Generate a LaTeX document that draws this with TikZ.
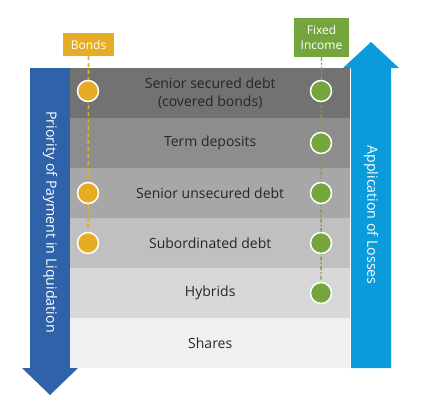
\documentclass[tikz,border=0pt]{standalone}
\usepackage{fontspec}
\setmainfont{Open Sans}
\definecolor{lblue}{HTML}{2F62A9}
\definecolor{rblue}{HTML}{0A9BDD}
\definecolor{bondc}{HTML}{E6AC25}
\definecolor{fixc}{HTML}{74A63D}
\definecolor{txt}{HTML}{262626}
\definecolor{rA}{HTML}{727272}
\definecolor{rB}{HTML}{8D8D8D}
\definecolor{rC}{HTML}{A7A7A7}
\definecolor{rD}{HTML}{C0C0C0}
\definecolor{rE}{HTML}{D8D8D8}
\definecolor{rF}{HTML}{F0F0F0}
\begin{document}
\begin{tikzpicture}[x=1pt,y=-1pt,
  rowbox/.style={draw=none,minimum width=280pt,minimum height=50pt,inner sep=0pt,anchor=north west,
    font=\fontsize{14}{18}\selectfont,text=txt,align=center},
  dot/.style={circle,draw=white,line width=1.5pt,minimum size=21pt,inner sep=0pt},
  bdot/.style={dot,fill=bondc},
  fdot/.style={dot,fill=fixc},
  tag/.style={inner sep=0pt,text=white,font=\fontsize{12}{15}\selectfont,align=center},
  vtext/.style={text=white,font=\fontsize{14.2}{16}\selectfont,rotate=-90}]
\useasboundingbox (0,0) rectangle (423,408);
% arrows
\fill[lblue] (30,68) -- (70,68) -- (70,368) -- (78,368) -- (50,395) -- (22,368) -- (30,368) -- cycle;
\fill[rblue] (351,368) -- (391,368) -- (391,68) -- (399,68) -- (371,42) -- (343,68) -- (351,68) -- cycle;
\node[vtext] (pl) at (50,222) {Priority of Payment in Liquidation};
\node[vtext] (al) at (371,215) {Application of Losses};
% rows
\node[rowbox,fill=rA] (r1) at (70,68) {Senior secured debt\\(covered bonds)};
\node[rowbox,fill=rB] (r2) at (70,118) {Term deposits};
\node[rowbox,fill=rC] (r3) at (70,168) {Senior unsecured debt};
\node[rowbox,fill=rD] (r4) at (70,218) {Subordinated debt};
\node[rowbox,fill=rE] (r5) at (70,268) {Hybrids};
\node[rowbox,fill=rF] (r6) at (70,318) {Shares};
% tags
\node[tag,fill=bondc,minimum width=51pt,minimum height=23pt] (bonds) at (88.5,44.5) {Bonds};
\node[tag,fill=fixc,minimum width=55pt,minimum height=39pt] (fixed) at (321.5,37.5) {Fixed\\Income};
% dots
\coordinate (b4c) at (88,243);
\coordinate (f5c) at (321,293);
\draw[bondc,line width=1.6pt,dash pattern=on 4pt off 3pt] (bonds.south) -- (b4c);
\draw[fixc,line width=1.4pt,dash pattern=on 4pt off 2pt on 1.5pt off 2pt] (fixed.south) -- (f5c);
\node[bdot] (b1) at (88,91) {};
\node[bdot] (b3) at (88,193) {};
\node[bdot] (b4) at (b4c) {};
\node[fdot] (f1) at (321,91) {};
\node[fdot] (f2) at (321,143) {};
\node[fdot] (f3) at (321,193) {};
\node[fdot] (f4) at (321,243) {};
\node[fdot] (f5) at (f5c) {};
\end{tikzpicture}
\end{document}
